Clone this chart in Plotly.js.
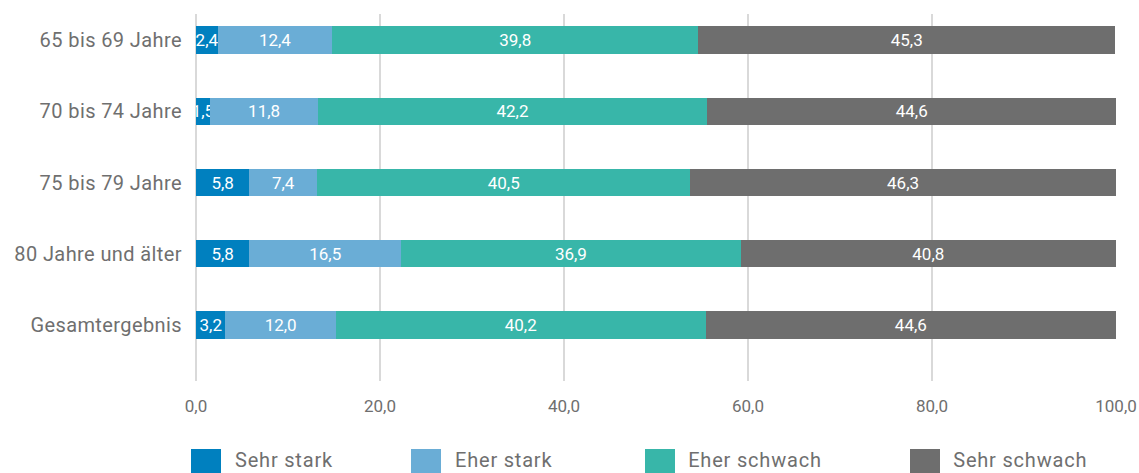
<!DOCTYPE html>
<html>
<head>
<meta charset="utf-8">
<script src="https://cdn.plot.ly/plotly-3.0.1.min.js"></script>
<style>
  html, body { margin: 0; padding: 0; background: #fff; }
  #chart { width: 1139px; height: 473px; }
  #chart .ytick text { letter-spacing: 0.4px; }
  #chart .annotation-text { letter-spacing: 0.8px; }
  #chart .bartext text { letter-spacing: 0.5px; }
</style>
</head>
<body>
<div id="chart"></div>
<script>
const categories = ["65 bis 69 Jahre", "70 bis 74 Jahre", "75 bis 79 Jahre", "80 Jahre und älter", "Gesamtergebnis"];
const seriesNames = ["Sehr stark", "Eher stark", "Eher schwach", "Sehr schwach"];
const sehrStark = [2.4, 1.5, 5.8, 5.8, 3.2];
const eherStark = [12.4, 11.8, 7.4, 16.5, 12.0];
const eherSchwach = [39.8, 42.2, 40.5, 36.9, 40.2];
const sehrSchwach = [45.3, 44.6, 46.3, 40.8, 44.6];
const xTickVals = [0, 20, 40, 60, 80, 100];

const colors = ["#0080bf", "#6aadd6", "#38b6a9", "#6e6e6e"];
const seriesValues = [sehrStark, eherStark, eherSchwach, sehrSchwach];

const FONT = "Roboto, 'Open Sans', sans-serif";

const traces = seriesValues.map((vals, i) => ({
  type: "bar",
  orientation: "h",
  name: seriesNames[i],
  y: categories,
  x: vals,
  marker: { color: colors[i], line: { width: 0 } },
  texttemplate: "%{x:.1f}",
  textposition: "inside",
  insidetextanchor: "middle",
  constraintext: "none",
  textangle: 0,
  textfont: { color: "#ffffff", size: 17, family: FONT },
  hoverinfo: "skip"
}));

// custom legend (paper coordinates)
const plotL = 196, plotR = 1116, plotT = 14, plotB = 381;
const pw = plotR - plotL, ph = plotB - plotT;
const legendX = [191, 411, 645, 910];
const shapes = [];
const annotations = [];
seriesNames.forEach((name, i) => {
  const x0 = (legendX[i] - plotL) / pw;
  const x1 = (legendX[i] + 30 - plotL) / pw;
  const y0 = (plotB - 449) / ph;
  const y1 = (plotB - 476) / ph;
  shapes.push({ type: "rect", xref: "paper", yref: "paper", x0: x0, x1: x1, y0: y0, y1: y1,
    fillcolor: colors[i], line: { width: 0 } });
  annotations.push({ xref: "paper", yref: "paper", x: (legendX[i] + 47 - plotL) / pw, y: (plotB - 460) / ph,
    xanchor: "left", yanchor: "middle", text: name, showarrow: false, borderpad: 0,
    font: { family: FONT, size: 20, color: "#6f6f6f" } });
});

const layout = {
  width: 1139,
  height: 473,
  margin: { l: plotL, r: 1139 - plotR, t: plotT, b: 473 - plotB, pad: 0 },
  barmode: "stack",
  bargap: 0.62,
  showlegend: false,
  separators: ",.",
  paper_bgcolor: "#ffffff",
  plot_bgcolor: "#ffffff",
  font: { family: FONT, color: "#6f6f6f" },
  xaxis: {
    range: [0, 100],
    tickvals: xTickVals,
    tickformat: ".1f",
    showgrid: true,
    gridcolor: "#d9d9d9",
    gridwidth: 1.5,
    zeroline: true,
    zerolinecolor: "#d9d9d9",
    zerolinewidth: 2,
    showline: false,
    ticks: "",
    ticklabelstandoff: 13,
    tickfont: { family: FONT, size: 17, color: "#6f6f6f" }
  },
  yaxis: {
    type: "category",
    categoryorder: "array",
    categoryarray: categories,
    range: [4.786, -0.365],
    showgrid: false,
    zeroline: false,
    showline: false,
    ticks: "",
    ticklabelstandoff: 13,
    tickfont: { family: FONT, size: 20, color: "#6f6f6f" }
  },
  shapes: shapes,
  annotations: annotations
};

Plotly.newPlot("chart", traces, layout, { displayModeBar: false, staticPlot: true });
</script>
</body>
</html>
